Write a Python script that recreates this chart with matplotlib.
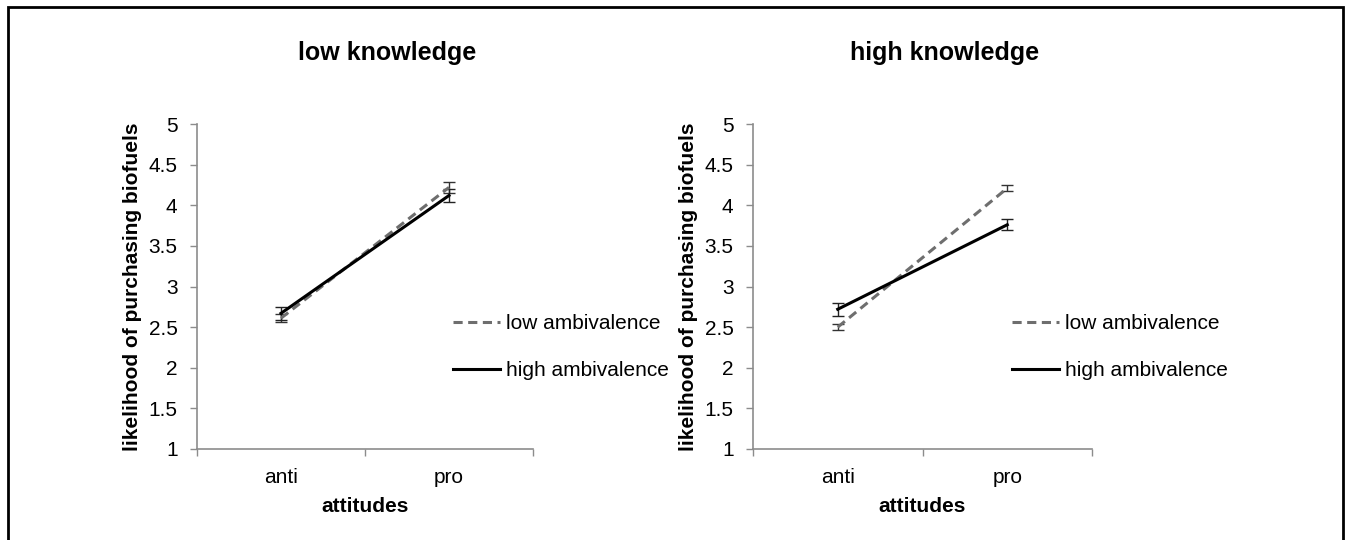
import matplotlib

matplotlib.use("Agg")
import matplotlib.pyplot as plt
from matplotlib.lines import Line2D
from matplotlib.patches import Rectangle

plt.rcParams["font.family"] = ["Liberation Sans", "DejaVu Sans"]

CATEGORIES = ["anti", "pro"]
PANEL_TITLES = ["low knowledge", "high knowledge"]
SERIES_NAMES = ["low ambivalence", "high ambivalence"]

# values: [anti, pro]
LOW_KNOW_LOW_AMB = [2.61, 4.22]
LOW_KNOW_LOW_AMB_ERR = [0.05, 0.07]
LOW_KNOW_HIGH_AMB = [2.67, 4.12]
LOW_KNOW_HIGH_AMB_ERR = [0.08, 0.08]

HIGH_KNOW_LOW_AMB = [2.50, 4.21]
HIGH_KNOW_LOW_AMB_ERR = [0.04, 0.04]
HIGH_KNOW_HIGH_AMB = [2.72, 3.76]
HIGH_KNOW_HIGH_AMB_ERR = [0.08, 0.07]

Y_TICKS = [1, 1.5, 2, 2.5, 3, 3.5, 4, 4.5, 5]
Y_TICK_LABELS = ["1", "1.5", "2", "2.5", "3", "3.5", "4", "4.5", "5"]

W, H = 1345, 540
AXIS_GREY = "#8c8c8c"
DASH_GREY = "#6e6e6e"
DASHES = (0, (3, 1.8))
FS = 15

fig = plt.figure(figsize=(W / 100, H / 100), dpi=100)

panels = [
    (197, 533, PANEL_TITLES[0], LOW_KNOW_LOW_AMB, LOW_KNOW_LOW_AMB_ERR,
     LOW_KNOW_HIGH_AMB, LOW_KNOW_HIGH_AMB_ERR, 453),
    (753, 1092, PANEL_TITLES[1], HIGH_KNOW_LOW_AMB, HIGH_KNOW_LOW_AMB_ERR,
     HIGH_KNOW_HIGH_AMB, HIGH_KNOW_HIGH_AMB_ERR, 1012),
]

x = list(range(len(CATEGORIES)))
for x0, x1, title, low, low_err, high, high_err, leg_x in panels:
    ax = fig.add_axes([x0 / W, 1 - 449 / H, (x1 - x0) / W, 325 / H])
    ax.errorbar(x, low, yerr=low_err, color=DASH_GREY, lw=2.2, ls=DASHES,
                capsize=4, elinewidth=1.0, capthick=1.0, ecolor="#333333")
    ax.errorbar(x, high, yerr=high_err, color="black", lw=2.2,
                capsize=4, elinewidth=1.0, capthick=1.0, ecolor="#222222")
    ax.set_xlim(-0.5, 1.5)
    ax.set_ylim(1, 5)
    ax.set_yticks(Y_TICKS)
    ax.set_yticklabels(Y_TICK_LABELS, fontsize=FS)
    ax.set_xticks([-0.5, 0.5, 1.5])
    ax.set_xticklabels([])
    ax.set_xticks(x, minor=True)
    ax.set_xticklabels(CATEGORIES, minor=True, fontsize=FS)
    ax.tick_params(axis="x", which="minor", length=0, pad=14)
    ax.tick_params(axis="both", which="major", length=5, width=1, color=AXIS_GREY)
    ax.tick_params(axis="y", pad=9)
    for side in ("top", "right"):
        ax.spines[side].set_visible(False)
    for side in ("left", "bottom"):
        ax.spines[side].set_color(AXIS_GREY)
        ax.spines[side].set_linewidth(1.2)
    ax.set_xlabel("attitudes", fontsize=FS, fontweight="bold", labelpad=7)
    ax.set_ylabel("likelihood of purchasing biofuels", fontsize=FS,
                  fontweight="bold", labelpad=5)
    fig.text((x0 + x1) / 2 / W + 22 / W, 1 - 53 / H, title, fontsize=18,
             fontweight="bold", ha="center", va="center")

    handles = [
        Line2D([], [], color=DASH_GREY, lw=2.2, ls=DASHES),
        Line2D([], [], color="black", lw=2.2),
    ]
    fig.legend(handles, SERIES_NAMES, loc="center left",
               bbox_to_anchor=(leg_x / W, 1 - 347 / H), frameon=False,
               fontsize=FS, handlelength=2.25, handletextpad=0.3,
               labelspacing=1.35, borderpad=0, borderaxespad=0)

# outer frame round the whole figure (bottom edge cut off in the reference)
fig.patches.append(Rectangle((8 / W, -0.05), (1343 - 8) / W, 1 - 7 / H + 0.05,
                             transform=fig.transFigure, fill=False,
                             edgecolor="black", lw=2, clip_on=False))

fig.savefig("out.png", dpi=100)
